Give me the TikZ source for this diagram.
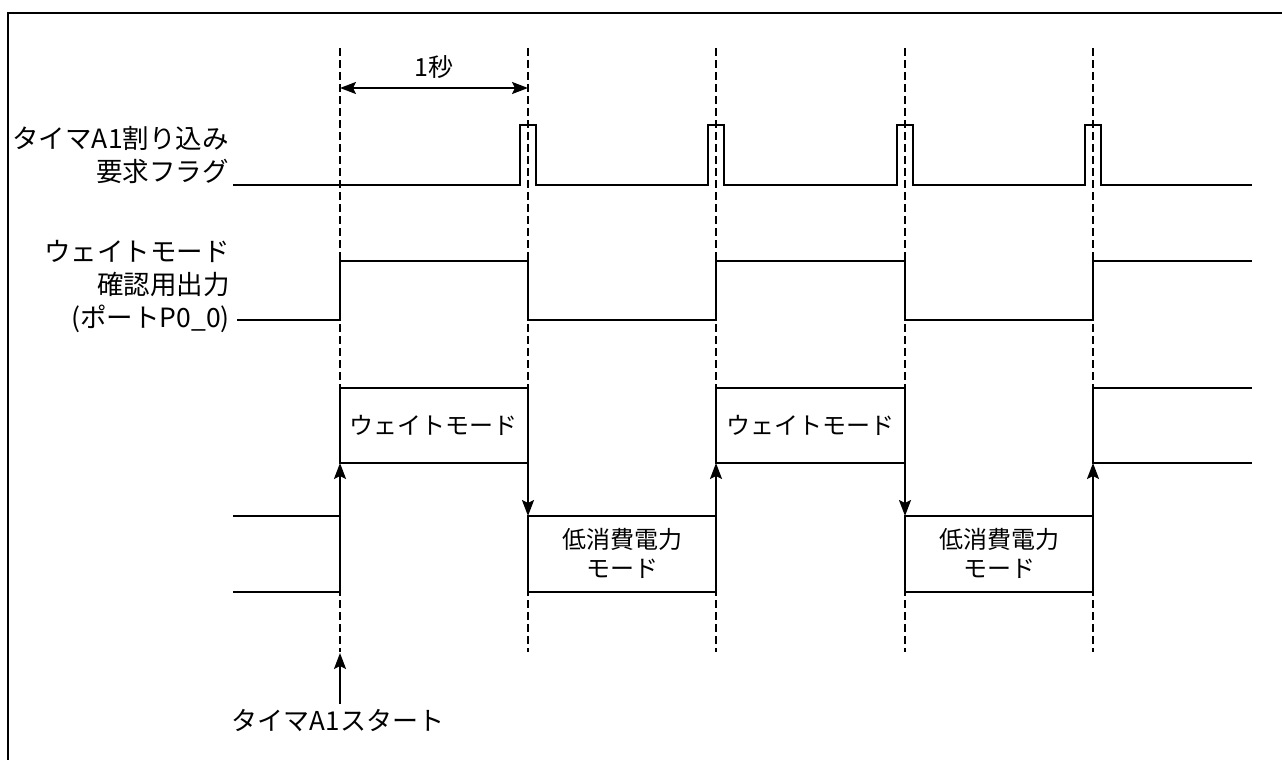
\documentclass[tikz,border=0pt]{standalone}
\usepackage{fontspec}
\setmainfont{Noto Sans CJK JP}
\usetikzlibrary{arrows.meta}
\begin{document}
\begin{tikzpicture}[x=1pt,y=-1pt,
  sig/.style={line width=2.3pt, line join=miter},
  band/.style={line width=2.1pt},
  gridline/.style={line width=2.6pt, dash pattern=on 8pt off 4pt},
  arr/.style={line width=2.1pt, -{Stealth[length=16pt,width=12pt,inset=3pt]}},
  darr/.style={line width=2.1pt, {Stealth[length=16pt,width=12pt,inset=3pt]}-{Stealth[length=16pt,width=12pt,inset=3pt]}},
  lbl/.style={font=\fontsize{26.5}{33}\selectfont, align=right, anchor=east, inner sep=0pt},
  txt/.style={font=\fontsize{24}{29}\selectfont, align=center, inner sep=0pt}]
\useasboundingbox (0,0) rectangle (1282,760);
\fill[white] (0,0) rectangle (1282,760);
% frame (only left and top visible)
\draw[line width=2.3pt] (8,760) -- (8,13) -- (1282,13);

% dashed time markers
\foreach \x [count=\i] in {340,528,716,905,1093}{
  \coordinate (t\i) at (\x,48);
  \coordinate (b\i) at (\x,652);
  \draw[gridline] (t\i) -- (b\i);
}

% 1 second
\coordinate (s1) at (340,88);
\coordinate (s2) at (528,88);
\draw[darr] (s1) -- (s2);
\node[txt, font=\fontsize{25}{29}\selectfont] (onesec) at (434,67) {1秒};

% labels
\node[lbl] (lflag) at (229,155) {タイマA1割り込み\\要求フラグ};
\node[lbl] (lwait) at (230,286) {ウェイトモード\\確認用出力\\(ポートP0\_0)};

% interrupt request flag
\draw[sig] (233,185) -- (520,185) -- (520,125) -- (536,125) -- (536,185)
  -- (708,185) -- (708,125) -- (724,125) -- (724,185)
  -- (897,185) -- (897,125) -- (913,125) -- (913,185)
  -- (1085,185) -- (1085,125) -- (1101,125) -- (1101,185) -- (1252,185);

% wait mode output
\draw[sig] (237,320) -- (340,320) -- (340,261) -- (528,261) -- (528,320)
  -- (716,320) -- (716,261) -- (905,261) -- (905,320)
  -- (1093,320) -- (1093,261) -- (1252,261);

% mode bands
\draw[band] (340,388) rectangle (528,463);
\node[txt] (w1) at (433,425) {ウェイトモード};
\draw[band] (716,388) rectangle (905,463);
\node[txt] (w2) at (810,425) {ウェイトモード};
\draw[band] (1252,388) -- (1093,388) -- (1093,463) -- (1252,463);

\draw[band] (233,516) -- (340,516) -- (340,592) -- (233,592);
\draw[band] (528,516) rectangle (716,592);
\node[txt] (p1) at (622,553) {低消費電力\\モード};
\draw[band] (905,516) rectangle (1093,592);
\node[txt] (p2) at (999,553) {低消費電力\\モード};

% transitions
\coordinate (u1a) at (340,516); \coordinate (u1b) at (340,463);
\coordinate (d1a) at (528,463); \coordinate (d1b) at (528,516);
\coordinate (u2a) at (716,516); \coordinate (u2b) at (716,463);
\coordinate (d2a) at (905,463); \coordinate (d2b) at (905,516);
\coordinate (u3a) at (1093,516); \coordinate (u3b) at (1093,463);
\draw[arr] (u1a) -- (u1b);
\draw[arr] (d1a) -- (d1b);
\draw[arr] (u2a) -- (u2b);
\draw[arr] (d2a) -- (d2b);
\draw[arr] (u3a) -- (u3b);

% timer start
\node[txt, font=\fontsize{26}{29}\selectfont] (start) at (338,720) {タイマA1スタート};
\coordinate (sa) at (340,704);
\coordinate (st) at (340,653);
\draw[arr] (sa) -- (st);
\end{tikzpicture}
\end{document}
